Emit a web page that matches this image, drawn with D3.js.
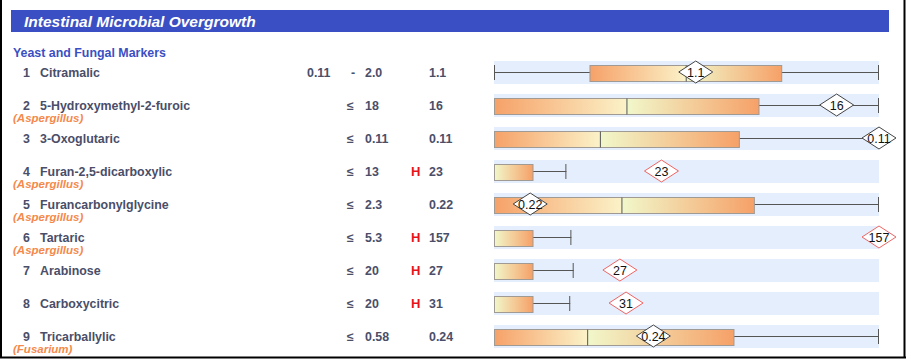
<!DOCTYPE html>
<html>
<head>
<meta charset="utf-8">
<script src="https://cdn.jsdelivr.net/npm/d3@7/dist/d3.min.js"></script>
<style>
  html, body { margin: 0; padding: 0; background: #fff; }
  svg { display: block; }
  text { font-family: "Liberation Sans", Arial, sans-serif; }
</style>
</head>
<body>
<svg id="chart" width="906" height="359"></svg>
<script>
// ---- data ----
const title = "Intestinal Microbial Overgrowth";
const section = "Yeast and Fungal Markers";
const numbers = [1, 2, 3, 4, 5, 6, 7, 8, 9];
const names = ["Citramalic", "5-Hydroxymethyl-2-furoic", "3-Oxoglutaric", "Furan-2,5-dicarboxylic",
  "Furancarbonylglycine", "Tartaric", "Arabinose", "Carboxycitric", "Tricarballylic"];
const organisms = ["", "(Aspergillus)", "", "(Aspergillus)", "(Aspergillus)", "(Aspergillus)", "", "", "(Fusarium)"];
const refLow = ["0.11", "", "", "", "", "", "", "", ""];
const refOp = ["-", "≤", "≤", "≤", "≤", "≤", "≤", "≤", "≤"];
const refHigh = ["2.0", "18", "0.11", "13", "2.3", "5.3", "20", "20", "0.58"];
const flags = ["", "", "", "H", "", "H", "H", "H", ""];
const values = ["1.1", "16", "0.11", "23", "0.22", "157", "27", "31", "0.24"];
// positions along the reference band, in percent of band width
const whiskerLo = [0, 0, 0, 0, 0, 0, 0, 0, 0];
const boxLo     = [24.8, 0, 0, 0, 0, 0, 0, 0, 0];
const median    = [49.8, 34.4, 27.5, 0, 33.1, 0, 0, 0, 24.2];
const boxHi     = [74.6, 68.7, 63.6, 10, 67.5, 10, 10, 10, 62.2];
const whiskerHi = [100, 100, 100, 18.8, 100, 20.1, 20.7, 19.8, 100];
const marker    = [52.4, 89.0, 100, 43.5, 9.4, 100, 32.7, 34.3, 41.4];

// ---- drawing ----
const svg = d3.select("#chart");
const defs = svg.append("defs");
const x = d3.scaleLinear().domain([0, 100]).range([494, 879]);
const y = d3.scalePoint().domain(d3.range(numbers.length)).range([72, 336]);

const textColor = "#4a4e69";
const orange = "#f6a168";
const paleL = "#fbf2c8";
const paleR = "#f1f8cb";
const fs = 12.4;

// frame
svg.append("line").attr("x1", 1).attr("x2", 1).attr("y1", 0).attr("y2", 358).attr("stroke", "#000").attr("stroke-width", 2);
svg.append("line").attr("x1", 904.5).attr("x2", 904.5).attr("y1", 0).attr("y2", 358).attr("stroke", "#000").attr("stroke-width", 2);
svg.append("line").attr("x1", 0).attr("x2", 906).attr("y1", 357.5).attr("y2", 357.5).attr("stroke", "#000").attr("stroke-width", 2);

// header
svg.append("rect").attr("x", 11).attr("y", 10).attr("width", 878).attr("height", 22).attr("fill", "#3a4fc3");
svg.append("text").attr("x", 24).attr("y", 27).text(title)
  .attr("fill", "#fff").attr("font-size", 15.5).attr("font-weight", "bold").attr("font-style", "italic");

svg.append("text").attr("x", 13).attr("y", 57).text(section)
  .attr("fill", "#3a4fc3").attr("font-size", fs).attr("font-weight", "bold");

const rows = svg.selectAll("g.row").data(numbers.map((n, i) => i)).join("g").attr("class", "row");

rows.append("text").attr("x", 30).attr("y", i => y(i) + 4.5).attr("text-anchor", "end")
  .attr("font-size", fs).attr("font-weight", "bold").attr("fill", textColor).text(i => numbers[i]);
rows.append("text").attr("x", 40).attr("y", i => y(i) + 4.5)
  .attr("font-size", fs).attr("font-weight", "bold").attr("fill", textColor).text(i => names[i]);
rows.append("text").attr("x", 13).attr("y", i => y(i) + 16.5)
  .attr("font-size", 11.5).attr("font-weight", "bold").attr("font-style", "italic").attr("fill", "#f5894a").text(i => organisms[i]);
rows.append("text").attr("x", 307).attr("y", i => y(i) + 4.5)
  .attr("font-size", fs).attr("font-weight", "bold").attr("fill", textColor).text(i => refLow[i]);
rows.append("text").attr("x", i => refOp[i] === "-" ? 351 : 347).attr("y", i => y(i) + 4.5)
  .attr("font-size", fs).attr("font-weight", "bold").attr("fill", textColor).text(i => refOp[i]);
rows.append("text").attr("x", 365).attr("y", i => y(i) + 4.5)
  .attr("font-size", fs).attr("font-weight", "bold").attr("fill", textColor).text(i => refHigh[i]);
rows.append("text").attr("x", 411).attr("y", i => y(i) + 4.5)
  .attr("font-size", 13).attr("font-weight", "bold").attr("fill", "#e8121a").text(i => flags[i]);
rows.append("text").attr("x", 429).attr("y", i => y(i) + 4.5)
  .attr("font-size", fs).attr("font-weight", "bold").attr("fill", textColor).text(i => values[i]);

// band
rows.append("rect").attr("x", x(0)).attr("width", x(100) - x(0))
  .attr("y", i => y(i) - 11).attr("height", 23).attr("fill", "#e5eefc");

// gradients
numbers.forEach((n, i) => {
  const g = defs.append("linearGradient").attr("id", "grad" + i)
    .attr("gradientUnits", "userSpaceOnUse")
    .attr("x1", x(boxLo[i])).attr("x2", x(boxHi[i])).attr("y1", 0).attr("y2", 0);
  const m = (median[i] - boxLo[i]) / (boxHi[i] - boxLo[i]);
  if (m > 0) g.append("stop").attr("offset", 0).attr("stop-color", orange);
  if (m > 0) g.append("stop").attr("offset", m).attr("stop-color", paleL);
  g.append("stop").attr("offset", m).attr("stop-color", paleR);
  g.append("stop").attr("offset", 1).attr("stop-color", orange);
});

// whisker line and caps
rows.append("line").attr("x1", i => x(whiskerLo[i])).attr("x2", i => x(whiskerHi[i]))
  .attr("y1", i => y(i) + 0.5).attr("y2", i => y(i) + 0.5).attr("stroke", "#555").attr("stroke-width", 1);
rows.append("line").attr("x1", i => x(whiskerLo[i]) + 0.5).attr("x2", i => x(whiskerLo[i]) + 0.5)
  .attr("y1", i => y(i) - 7).attr("y2", i => y(i) + 8).attr("stroke", "#555");
rows.append("line").attr("x1", i => x(whiskerHi[i]) - 0.5).attr("x2", i => x(whiskerHi[i]) - 0.5)
  .attr("y1", i => y(i) - 7).attr("y2", i => y(i) + 8).attr("stroke", "#555");

// box
rows.append("rect").attr("x", i => x(boxLo[i]) + 0.5).attr("width", i => x(boxHi[i]) - x(boxLo[i]))
  .attr("y", i => y(i) - 6.5).attr("height", 16)
  .attr("fill", i => `url(#grad${i})`).attr("stroke", "#a09a94").attr("stroke-width", 1);
rows.filter(i => median[i] > boxLo[i]).append("line")
  .attr("x1", i => x(median[i]) + 0.5).attr("x2", i => x(median[i]) + 0.5)
  .attr("y1", i => y(i) - 6.5).attr("y2", i => y(i) + 9.5).attr("stroke", "#555");

// marker diamond
const mk = rows.append("g").attr("transform", i => `translate(${x(marker[i])},${y(i)})`);
mk.append("path").attr("d", "M-17,0 L0,-11 L17,0 L0,11 Z")
  .attr("fill", "#fff").attr("stroke", i => flags[i] === "H" ? "#f06464" : "#444").attr("stroke-width", 1);
mk.append("text").attr("y", 4.5).attr("text-anchor", "middle").attr("font-size", 12.5)
  .attr("fill", "#111").text(i => values[i]);
</script>
</body>
</html>
